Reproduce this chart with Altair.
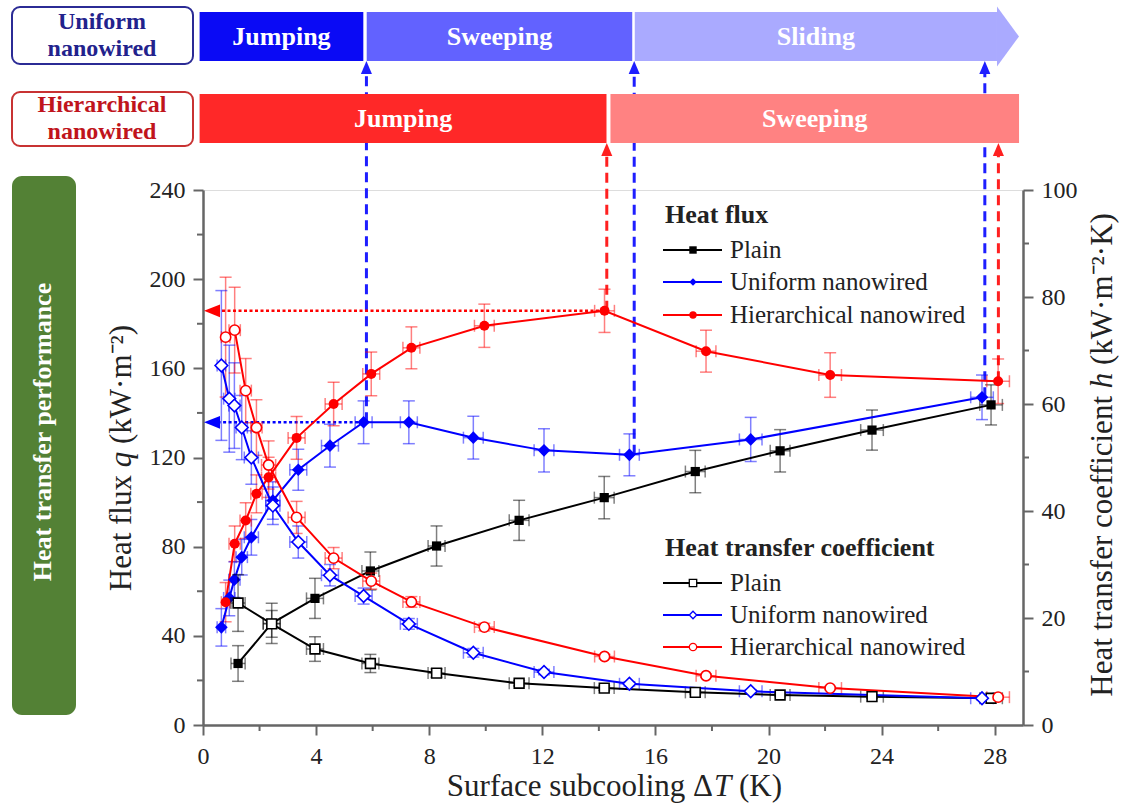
import altair as alt
import pandas as pd

FONT = "Liberation Serif"
PLOT_W, PLOT_H = 820, 535
AXIS_COLOR = "#666666"
TEXT_COLOR = "#222222"

SERIES = ["Plain", "Uniform nanowired", "Hierarchical nanowired"]
SERIES_COLORS = ["#000000", "#0000FF", "#FF0000"]
SERIES_SHAPES = ["square", "diamond", "circle"]

# ---------------- measurements ----------------
# Plain surface
plain_dT = [1.24, 2.43, 3.96, 5.92, 8.26, 11.18, 14.19, 17.41, 20.41, 23.66, 27.87]
plain_dT_err = [0.25, 0.3, 0.3, 0.3, 0.3, 0.35, 0.35, 0.35, 0.35, 0.4, 0.4]
plain_q = [27.6, 45.6, 56.8, 69.1, 80.3, 91.8, 102.0, 113.7, 123.0, 132.3, 143.6]
plain_q_err = [8.0, 9.0, 9.0, 8.5, 9.0, 9.0, 9.5, 9.5, 9.5, 9.0, 9.0]
plain_h = [22.8, 18.9, 14.2, 11.5, 9.7, 7.8, 6.9, 6.1, 5.6, 5.3, 5.0]
plain_h_err = [5.3, 2.5, 2.3, 1.7, 0.8, 0.5, 0.4, 0.3, 0.3, 0.3, 0.3]

# Uniform nanowired surface
uni_dT = [0.65, 0.93, 1.11, 1.37, 1.71, 2.47, 3.37, 4.49, 5.68, 7.28, 9.56, 12.06, 15.08, 19.37, 27.55]
uni_dT_err = [0.15, 0.2, 0.2, 0.2, 0.25, 0.25, 0.3, 0.3, 0.3, 0.3, 0.35, 0.35, 0.35, 0.4, 0.4]
uni_q = [43.8, 57.0, 65.2, 75.3, 84.2, 100.7, 114.5, 125.3, 135.8, 135.8, 128.9, 123.2, 121.2, 128.1, 147.0]
uni_q_err = [8.4, 8.0, 8.0, 8.0, 8.0, 8.4, 9.2, 9.6, 9.6, 9.6, 9.6, 9.7, 9.4, 9.9, 10.0]
uni_h = [67.2, 61.0, 59.7, 55.6, 50.0, 41.0, 34.2, 28.0, 24.1, 18.9, 13.5, 9.9, 7.7, 6.3, 5.0]
uni_h_err = [14.0, 10.0, 8.0, 6.0, 5.0, 3.5, 3.0, 2.0, 1.5, 1.0, 0.8, 0.5, 0.4, 0.3, 0.3]

# Hierarchical nanowired surface
hier_dT = [0.80, 1.12, 1.51, 1.89, 2.32, 3.31, 4.62, 5.95, 7.37, 9.95, 14.20, 17.79, 22.18, 28.12]
hier_dT_err = [0.15, 0.2, 0.2, 0.2, 0.25, 0.3, 0.3, 0.3, 0.3, 0.35, 0.35, 0.35, 0.4, 0.4]
hier_q = [55.1, 81.3, 91.7, 103.7, 111.1, 128.8, 144.0, 157.5, 169.2, 179.1, 185.8, 167.7, 157.0, 154.2]
hier_q_err = [8.8, 8.0, 8.0, 8.5, 9.0, 9.6, 9.8, 9.8, 9.4, 9.7, 9.7, 9.4, 10.0, 10.0]
hier_h = [72.5, 73.8, 62.5, 55.6, 48.6, 38.8, 31.2, 26.9, 23.0, 18.3, 12.8, 9.2, 6.9, 5.2]
hier_h_err = [11.2, 8.0, 6.0, 5.2, 4.5, 3.0, 2.0, 1.5, 1.0, 0.7, 0.4, 0.3, 0.3, 0.3]

# Regime transitions (subcooling, heat flux at the transition)
uni_trans_dT = [5.78, 15.25, 27.65]
uni_trans_q = [135.8, 121.2, 147.0]
hier_trans_dT = [14.28, 28.13]
hier_trans_q = [185.8, 154.2]

# Peak heat-flux guides
guide_q = [185.8, 135.8]
guide_end_dT = [14.20, 5.68]
guide_series = ["Hierarchical nanowired", "Uniform nanowired"]

# Regime bands
uni_regimes = ["Jumping", "Sweeping", "Sliding"]
uni_start = [-0.12, 5.79, 15.27]
uni_end = [5.67, 15.18, 28.08]
uni_band_colors = ["#0A0AF5", "#6262FF", "#AAAAFF"]
hier_regimes = ["Jumping", "Sweeping"]
hier_start = [-0.12, 14.41]
hier_end = [14.27, 28.86]
hier_band_colors = ["#FF2828", "#FF8282"]

# Axis ticks
x_major = [0, 4, 8, 12, 16, 20, 24, 28]
x_minor = [2, 6, 10, 14, 18, 22, 26]
q_major = [0, 40, 80, 120, 160, 200, 240]
q_minor = [20, 60, 100, 140, 180, 220]
h_major = [0, 20, 40, 60, 80, 100]
h_minor = [10, 30, 50, 70, 90]


def series_frame(name, dT, dT_err, val, err):
    return pd.DataFrame({"series": name, "dT": dT, "dT_err": dT_err, "val": val, "err": err})


q_df = pd.concat([
    series_frame("Plain", plain_dT, plain_dT_err, plain_q, plain_q_err),
    series_frame("Uniform nanowired", uni_dT, uni_dT_err, uni_q, uni_q_err),
    series_frame("Hierarchical nanowired", hier_dT, hier_dT_err, hier_q, hier_q_err),
], ignore_index=True)
h_df = pd.concat([
    series_frame("Plain", plain_dT, plain_dT_err, plain_h, plain_h_err),
    series_frame("Uniform nanowired", uni_dT, uni_dT_err, uni_h, uni_h_err),
    series_frame("Hierarchical nanowired", hier_dT, hier_dT_err, hier_h, hier_h_err),
], ignore_index=True)

# ---------------- scales / axes ----------------
x_scale = alt.Scale(domain=[0, 29], nice=False, zero=False)
q_scale = alt.Scale(domain=[0, 240], nice=False)
h_scale = alt.Scale(domain=[0, 100], nice=False)

axis_common = dict(title=None, labelFlush=False, labelOverlap=False, grid=False,
                   domainColor=AXIS_COLOR, domainWidth=2.5, tickColor=AXIS_COLOR,
                   tickWidth=2, tickSize=10, labelFont=FONT, labelFontSize=24,
                   labelColor=TEXT_COLOR, format="d")
x_axis = alt.Axis(values=x_major, labelPadding=9, **axis_common)
q_axis = alt.Axis(values=q_major, orient="left", labelPadding=8, **axis_common)
h_axis = alt.Axis(values=h_major, orient="right", labelPadding=8, **axis_common)

color = alt.Color("series:N", scale=alt.Scale(domain=SERIES, range=SERIES_COLORS), legend=None)


def X(field="dT"):
    return alt.X(f"{field}:Q", scale=x_scale, axis=x_axis)


def make_Y(scale, axis):
    def Y(field="val"):
        return alt.Y(f"{field}:Q", scale=scale, axis=axis)
    return Y


Yq = make_Y(q_scale, q_axis)
Yh = make_Y(h_scale, h_axis)


def data_layers(df, Y, filled):
    base = alt.Chart(df).transform_calculate(
        lo="datum.val - datum.err", hi="datum.val + datum.err",
        xlo="datum.dT - datum.dT_err", xhi="datum.dT + datum.dT_err")
    eb = dict(opacity=0.5)
    layers = [
        base.mark_rule(strokeWidth=1.5, **eb).encode(x=X(), y=Y("lo"), y2="hi:Q", color=color),
        base.mark_tick(orient="horizontal", size=12, thickness=1.5, **eb).encode(x=X(), y=Y("lo"), color=color),
        base.mark_tick(orient="horizontal", size=12, thickness=1.5, **eb).encode(x=X(), y=Y("hi"), color=color),
        base.mark_rule(strokeWidth=1.5, **eb).encode(x=X("xlo"), x2="xhi:Q", y=Y(), color=color),
        base.mark_tick(orient="vertical", size=12, thickness=1.5, **eb).encode(x=X("xlo"), y=Y(), color=color),
        base.mark_tick(orient="vertical", size=12, thickness=1.5, **eb).encode(x=X("xhi"), y=Y(), color=color),
        base.mark_line(strokeWidth=2).encode(x=X(), y=Y(), color=color, order="dT:Q"),
    ]
    sizes_filled = {"square": 85, "diamond": 160, "circle": 100}
    sizes_open = {"square": 95, "diamond": 160, "circle": 105}
    for name, col, shp in zip(SERIES, SERIES_COLORS, SERIES_SHAPES):
        sub = base.transform_filter(alt.datum.series == name)
        if filled:
            mk = sub.mark_point(shape=shp, filled=True, color=col, opacity=1,
                                size=sizes_filled[shp])
        else:
            mk = sub.mark_point(shape=shp, filled=False, fill="white", fillOpacity=1,
                                stroke=col, strokeWidth=1.6, opacity=1, size=sizes_open[shp])
        layers.append(mk.encode(x=X(), y=Y()))
    return layers


def text(t, x, y, size, weight="normal", style="normal", align="center",
         angle=0, col=TEXT_COLOR):
    kw = dict(font=FONT, fontSize=size, fontWeight=weight, fontStyle=style,
              align=align, baseline="middle", color=col)
    if angle:
        kw["angle"] = angle
    return alt.Chart(pd.DataFrame({"t": [t]})).mark_text(**kw).encode(
        x=alt.value(x), y=alt.value(y), text="t:N")


one = pd.DataFrame({"k": [0]})

# ---------------- heat-flux group (left axis) ----------------
q_layers = []

uni_band_df = pd.DataFrame({"regime": uni_regimes, "start": uni_start, "end": uni_end,
                            "fill": uni_band_colors})
hier_band_df = pd.DataFrame({"regime": hier_regimes, "start": hier_start, "end": hier_end,
                             "fill": hier_band_colors})

UNI_TOP, UNI_BOT = -178, -129
HIER_TOP, HIER_BOT = -96, -47

# transition markers (dashed up-arrows)
uni_tr = pd.DataFrame({"dT": uni_trans_dT, "q": uni_trans_q})
hier_tr = pd.DataFrame({"dT": hier_trans_dT, "q": hier_trans_q})
up_arrow = "M0,-1L0.85,1L-0.85,1Z"
for df_, col, tip in [(uni_tr, "#1E1EFF", UNI_BOT), (hier_tr, "#FF2020", HIER_BOT)]:
    q_layers.append(alt.Chart(df_).mark_rule(color=col, strokeWidth=3, strokeDash=[10, 6]).encode(
        x=X(), y=Yq("q"), y2=alt.value(tip + 10)))
    q_layers.append(alt.Chart(df_).mark_point(shape=up_arrow, filled=True, color=col, opacity=1,
                                              size=169, strokeWidth=0).encode(
        x=X(), y=alt.value(tip + 6.5)))

# regime bands (drawn over the dashed lines)
q_layers.append(alt.Chart(uni_band_df).mark_rect().encode(
    x=X("start"), x2="end:Q", y=alt.value(UNI_TOP), y2=alt.value(UNI_BOT),
    fill=alt.Fill("fill:N", scale=None)))
q_layers.append(alt.Chart(uni_band_df.iloc[[2]]).mark_point(
    shape="M0,-1L0.733,0L0,1Z", filled=True, color=uni_band_colors[2], opacity=1,
    size=3600, strokeWidth=0).encode(x=X("end"), y=alt.value((UNI_TOP + UNI_BOT) / 2)))
q_layers.append(alt.Chart(uni_band_df).transform_calculate(mid="(datum.start + datum.end) / 2")
                .mark_text(font=FONT, fontSize=26, fontWeight="bold", color="white",
                           baseline="middle").encode(
    x=X("mid"), y=alt.value((UNI_TOP + UNI_BOT) / 2), text="regime:N"))
q_layers.append(alt.Chart(hier_band_df).mark_rect().encode(
    x=X("start"), x2="end:Q", y=alt.value(HIER_TOP), y2=alt.value(HIER_BOT),
    fill=alt.Fill("fill:N", scale=None)))
q_layers.append(alt.Chart(hier_band_df).transform_calculate(mid="(datum.start + datum.end) / 2")
                .mark_text(font=FONT, fontSize=26, fontWeight="bold", color="white",
                           baseline="middle").encode(
    x=X("mid"), y=alt.value((HIER_TOP + HIER_BOT) / 2), text="regime:N"))

# row labels
q_layers.append(alt.Chart(one).mark_rect(cornerRadius=8, fill="white", stroke="#2B2B95",
                                         strokeWidth=2).encode(
    x=alt.value(-191), x2=alt.value(-10), y=alt.value(-183), y2=alt.value(-126)))
q_layers.append(alt.Chart(one).mark_rect(cornerRadius=8, fill="white", stroke="#C83232",
                                         strokeWidth=2).encode(
    x=alt.value(-191), x2=alt.value(-10), y=alt.value(-98), y2=alt.value(-44)))
q_layers += [
    text("Uniform", -101, -168, 24, weight="bold", col="#22228C"),
    text("nanowired", -101, -141, 24, weight="bold", col="#22228C"),
    text("Hierarchical", -101, -85, 24, weight="bold", col="#C0141C"),
    text("nanowired", -101, -58, 24, weight="bold", col="#C0141C"),
]

# side block
q_layers.append(alt.Chart(one).mark_rect(cornerRadius=10, fill="#538135").encode(
    x=alt.value(-191), x2=alt.value(-127), y=alt.value(-14), y2=alt.value(525)))
q_layers.append(text("Heat transfer performance", -160, 242, 26, weight="bold",
                     angle=270, col="white"))

# peak heat-flux guides
guide_df = pd.DataFrame({"q": guide_q, "end": guide_end_dT, "series": guide_series})
q_layers.append(alt.Chart(guide_df).mark_rule(strokeWidth=2.5, strokeDash=[3, 2.5]).encode(
    x=X("end"), x2=alt.value(12), y=Yq("q"), color=color))
q_layers.append(alt.Chart(guide_df).mark_point(shape="M-1,0L1,-0.8L1,0.8Z", filled=True,
                                               opacity=1, size=256, strokeWidth=0).encode(
    x=alt.value(9), y=Yq("q"), color=color))

q_layers += data_layers(q_df, Yq, filled=True)

# minor ticks
q_layers.append(alt.Chart(pd.DataFrame({"v": x_minor})).mark_rule(
    color=AXIS_COLOR, strokeWidth=2).encode(x=X("v"), y=alt.value(PLOT_H), y2=alt.value(PLOT_H + 6)))
q_layers.append(alt.Chart(pd.DataFrame({"v": q_minor})).mark_rule(
    color=AXIS_COLOR, strokeWidth=2).encode(y=Yq("v"), x=alt.value(0), x2=alt.value(-6)))


# legends
def legend_entry(name, col, shp, filled, y):
    line = alt.Chart(one).mark_rule(color=col, strokeWidth=2).encode(
        x=alt.value(460), x2=alt.value(519), y=alt.value(y))
    if filled:
        pt = alt.Chart(one).mark_point(shape=shp, filled=True, color=col, opacity=1, size=55)
    else:
        pt = alt.Chart(one).mark_point(shape=shp, filled=False, fill="white", fillOpacity=1,
                                       stroke=col, strokeWidth=1.3, opacity=1, size=55)
    pt = pt.encode(x=alt.value(490), y=alt.value(y))
    return [line, pt, text(name, 527, y, 25, align="left")]


q_layers.append(text("Heat flux", 462, 25, 26, weight="bold", align="left"))
for name, col, shp, yy in zip(SERIES, SERIES_COLORS, SERIES_SHAPES, [60, 92, 125]):
    q_layers += legend_entry(name, col, shp, True, yy)
q_layers.append(text("Heat transfer coefficient", 462, 358, 26, weight="bold", align="left"))
for name, col, shp, yy in zip(SERIES, SERIES_COLORS, SERIES_SHAPES, [393, 425, 457]):
    q_layers += legend_entry(name, col, shp, False, yy)

# axis titles
q_layers += [
    text("Heat flux", -81, 285, 31, align="right", angle=270),
    text("q", -81, 269.5, 31, style="italic", angle=270),
    text("(kW·m⁻²)", -81, 254, 31, align="left", angle=270),
    text("Heat transfer coefficient", 900, 206, 31, align="right", angle=270),
    text("h", 900, 190.5, 31, style="italic", angle=270),
    text("(kW·m⁻²·K)", 900, 175, 31, align="left", angle=270),
    text("Surface subcooling Δ", 510, 597, 31, align="right"),
    text("T", 511, 597, 31, style="italic", align="left"),
    text("(K)", 536, 597, 31, align="left"),
]

q_group = alt.layer(*q_layers)

# ---------------- heat-transfer-coefficient group (right axis) ----------------
h_layers = data_layers(h_df, Yh, filled=False)
h_layers.append(alt.Chart(pd.DataFrame({"v": h_minor})).mark_rule(
    color=AXIS_COLOR, strokeWidth=2).encode(y=Yh("v"), x=alt.value(PLOT_W), x2=alt.value(PLOT_W + 6)))
h_group = alt.layer(*h_layers)

chart = (
    alt.layer(q_group, h_group)
    .resolve_scale(y="independent")
    .properties(width=PLOT_W, height=PLOT_H,
                padding={"left": 203, "top": 190, "right": 107, "bottom": 80},
                autosize=alt.AutoSizeParams(type="none"))
    .configure_view(stroke=AXIS_COLOR, strokeWidth=2.5)
    .configure(background="white")
)

chart.save("out.html", embed_options={"renderer": "svg", "actions": False})
